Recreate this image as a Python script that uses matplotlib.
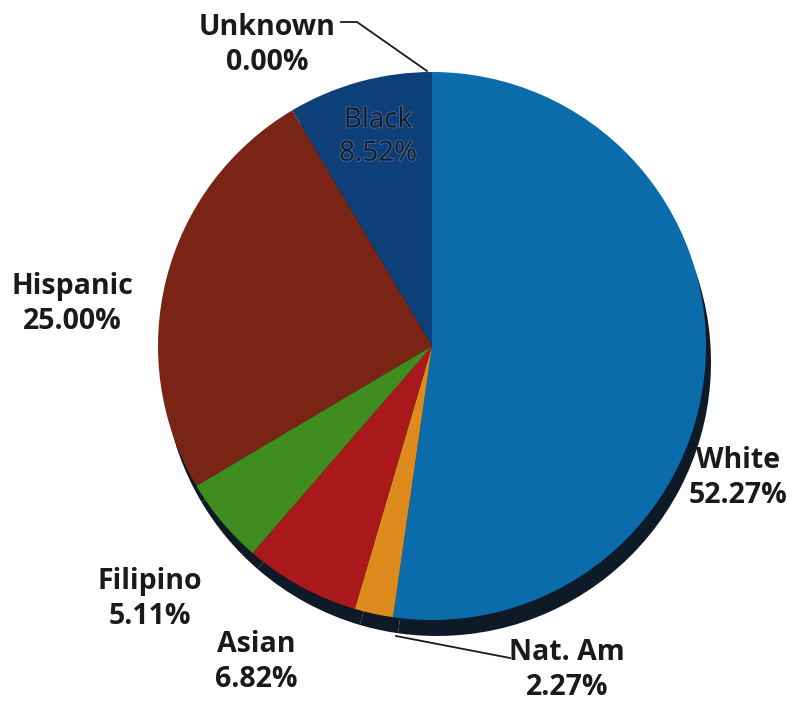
import numpy as np
import matplotlib
matplotlib.use("Agg")
from matplotlib import pyplot as plt
from matplotlib import patheffects as pe

groups = ["White", "Nat. Am", "Asian", "Filipino", "Hispanic", "Black", "Unknown"]
shares = [52.27, 2.27, 6.82, 5.11, 25.00, 8.52, 0.00]
colors = ["#0b6cab", "#de8a1c", "#a9191b", "#3f8c1f", "#7a2415", "#0d3f78", "#555555"]

W, H = 793, 704
fig = plt.figure(figsize=(W / 100, H / 100), dpi=100)
ax = fig.add_axes([0, 0, 1, 1])

cx, cy, r = 432, H - 346, 274

# dark side of the disc, drawn below and shifted down a bit
ax.pie(shares, colors=["#0e1a27"] * len(shares), startangle=90, counterclock=False,
       center=(cx + 5, cy - 16), radius=r, frame=True,
       wedgeprops=dict(linewidth=0))
ax.pie(shares, colors=colors, startangle=90, counterclock=False,
       center=(cx, cy), radius=r, frame=True,
       wedgeprops=dict(linewidth=0))
ax.set_xlim(0, W)
ax.set_ylim(0, H)
ax.set_aspect("equal")
ax.axis("off")

font = dict(family="Open Sans", fontweight="bold", fontsize=20.5, color="#1a1a1a",
            ha="center", va="center", linespacing=1.25)

def label(x, y, i, **kw):
    opts = dict(font)
    opts.update(kw)
    ax.text(x, H - y, "{}\n{:.2f}%".format(groups[i], shares[i]), **opts)

label(267, 45, 6)
label(378, 137, 5, color="#131a24", fontweight="normal", fontsize=20,
      path_effects=[pe.withStroke(linewidth=1.3, foreground="#46699a")])
label(72, 304, 4)
label(738, 478, 0)
label(150, 599, 3)
label(256, 662, 2)
label(567, 670, 1)

# leader lines
ax.plot([341, 357, cx - 5], [H - 22, H - 22, H - 71], color="#1a1a1a", lw=1.3)
ax.plot([396, 510], [H - 636, H - 658], color="#1a1a1a", lw=1.3)

fig.savefig("out.png", dpi=100)
